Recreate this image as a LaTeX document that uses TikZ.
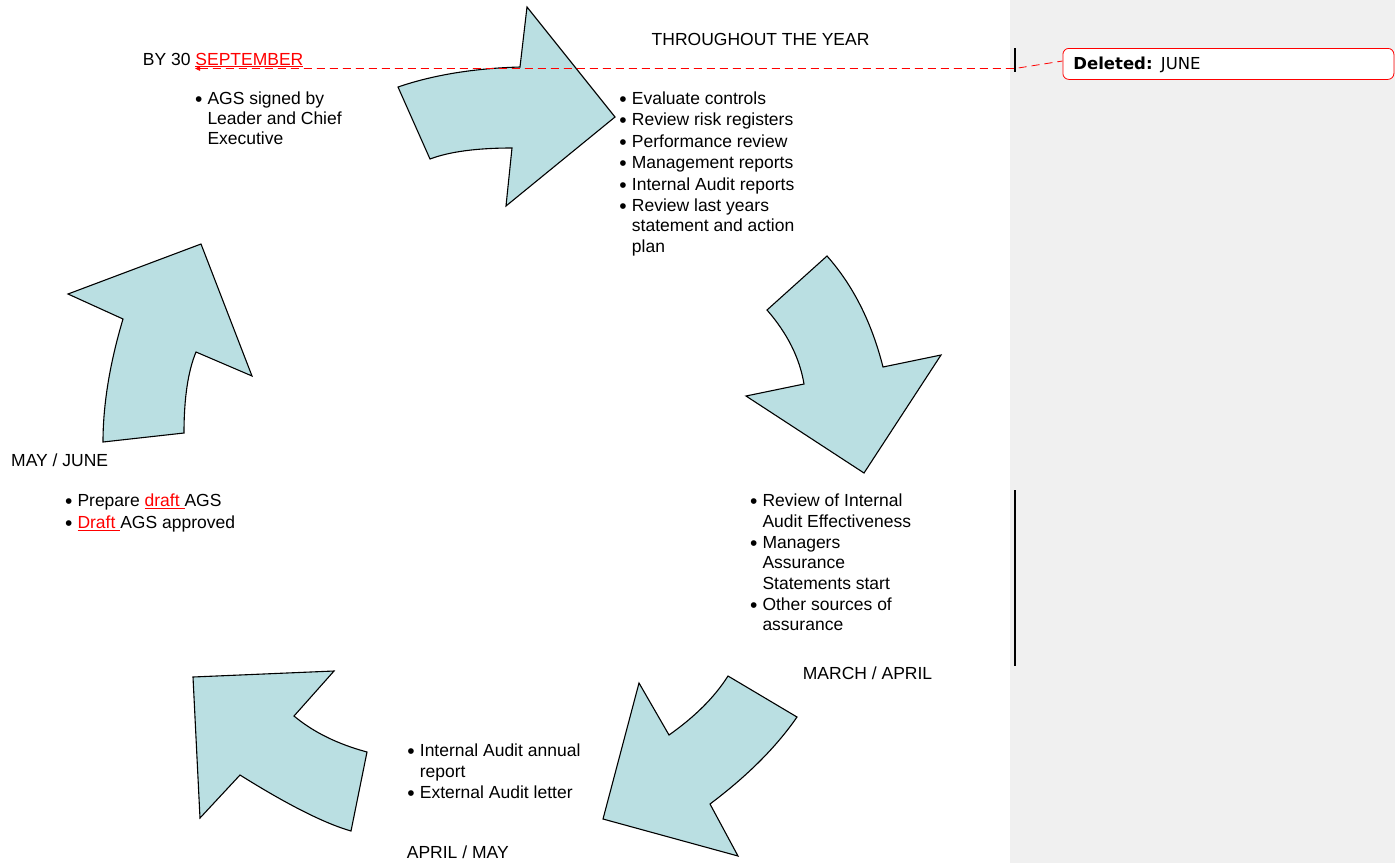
\documentclass[tikz,border=0pt]{standalone}
\usepackage{fontspec}
\setmainfont{Liberation Sans}
\newfontfamily\dvs{DejaVu Sans}
\usetikzlibrary{arrows.meta}
\definecolor{arrowfill}{RGB}{186,223,226}
\definecolor{sidegray}{RGB}{240,240,240}
\newcommand{\bu}{\makebox[12.5pt][l]{\raisebox{-2.2pt}{\fontsize{21}{21}\selectfont\textbullet}}}
\newcommand{\ind}{\hspace*{12.5pt}}
\newcommand{\redul}[1]{\textcolor{red}{\underline{#1}}}
\begin{document}
\begin{tikzpicture}[x=1pt,y=-1pt,
  font=\fontsize{17.5}{20.3}\selectfont,
  arrowshape/.style={draw=black, line width=1.1pt, fill=arrowfill, line join=miter},
  lbl/.style={inner sep=0pt, anchor=base west},
  chg/.style={red, line width=0.8pt, dash pattern=on 8pt off 5pt},
  chgbar/.style={line width=2pt},
  callout/.style={draw=red, fill=white, rounded corners=6pt, line width=0.8pt,
    minimum height=31pt, text width=310pt, inner xsep=10.5pt, align=left,
    text height=12pt, text depth=0pt,
    font=\dvs\fontsize{16.5}{19}\selectfont}]
\useasboundingbox (0,0) rectangle (1395,863);
\fill[white] (0,0) rectangle (1395,863);
\fill[sidegray] (1010,0) rectangle (1395,863);

% arrows
\draw[arrowshape] (398,87) .. controls (434,74.7) and (474.7,68.3) .. (520,67) -- (527,7) -- (615,117) -- (506,206) -- (512,148) .. controls (476.7,148) and (449.3,151.7) .. (430,159) -- cycle;
\draw[arrowshape] (827,256) .. controls (853,285.3) and (871.7,322.3) .. (883,367) -- (941,355) -- (864,473) -- (746,396) -- (804,384) .. controls (799.7,358) and (787.3,333.3) .. (767,310) -- cycle;
\draw[arrowshape] (728,676) -- (797,717) .. controls (776.3,747) and (747.3,776) .. (710,804) -- (738,856) -- (603,819) -- (639,683) -- (669,735) .. controls (695,716.7) and (714.7,697) .. (728,676) -- cycle;
\draw[arrowshape] (334,671) -- (294,716) .. controls (313.1,732) and (337.4,744) .. (367,752) -- (351,831) .. controls (324.3,823.3) and (287.3,804.6) .. (240,775) -- (200,818) -- (193,677) -- cycle;
\draw[arrowshape] (103,442) .. controls (103,404.7) and (109.7,363.7) .. (123,319) -- (68,294) -- (201,244) -- (252,376) -- (196,352) .. controls (188,371.3) and (184,398.3) .. (184,433) -- cycle;

% headings
\node[lbl] (ttl1) at (651.5,45.7) {THROUGHOUT THE YEAR};
\node[lbl] (ttl2) at (142.7,65) {BY 30 \redul{SEPTEMBER}};
\node[lbl] (ttl3) at (11,466.7) {MAY / JUNE};
\node[lbl] (ttl4) at (802.7,679.5) {MARCH / APRIL};
\node[lbl] (ttl5) at (406.7,858.3) {APRIL / MAY};

% lists
\node[lbl] (l1) at (194.8,104.3) {\begin{tabular}[t]{@{}l@{}}\bu AGS signed by\\ \ind Leader and Chief\\ \ind Executive\end{tabular}};
\node[lbl] (l2) at (619.2,104) {\begin{tabular}[t]{@{}l@{}}\bu Evaluate controls\\[1.2pt] \bu Review risk registers\\[1.2pt] \bu Performance review\\[1.2pt] \bu Management reports\\[1.2pt] \bu Internal Audit reports\\[1.2pt] \bu Review last years\\ \ind statement and action\\ \ind plan\end{tabular}};
\node[lbl] (l3) at (64.8,506.7) {\begin{tabular}[t]{@{}l@{}}\bu Prepare \redul{draft\ }AGS\\[1.3pt] \bu \redul{Draft\ }AGS approved\end{tabular}};
\node[lbl] (l4) at (749.8,506.7) {\begin{tabular}[t]{@{}l@{}}\bu Review of Internal\\ \ind Audit Effectiveness\\[1.2pt] \bu Managers\\ \ind Assurance\\ \ind Statements start\\[1.2pt] \bu Other sources of\\ \ind assurance\end{tabular}};
\node[lbl] (l5) at (407.2,756.7) {\begin{tabular}[t]{@{}l@{}}\bu Internal Audit annual\\ \ind report\\[1.2pt] \bu External Audit letter\end{tabular}};

% change tracking
\draw[chgbar] (1015,48) -- (1015,72);
\draw[chgbar] (1015,490) -- (1015,666);
\node[callout, anchor=north west] (del) at (1062.5,48) {\textbf{Deleted:} JUNE};
\coordinate (mk) at (195,68.5);
\coordinate (bend) at (1015,68.5);
\coordinate (dk) at (1062.5,61);
\draw[chg, {Triangle[length=5pt,width=4.5pt]}-] (mk) -- (bend) -- (dk);
\end{tikzpicture}
\end{document}
